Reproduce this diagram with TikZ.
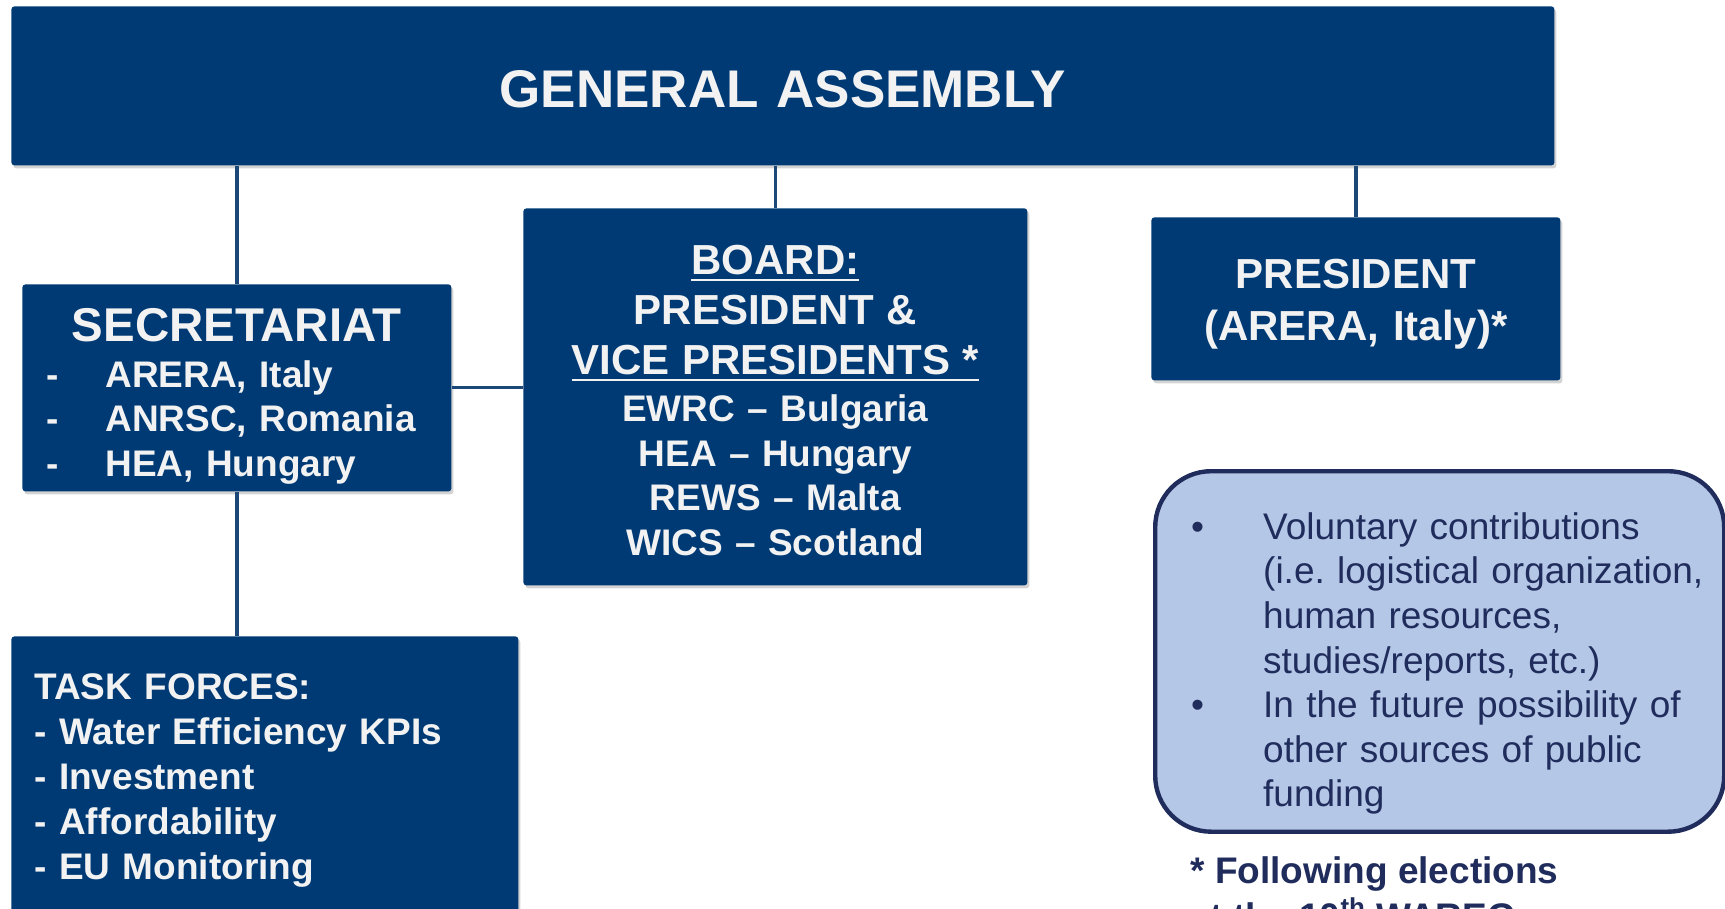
\documentclass[tikz,border=0pt]{standalone}
\usepackage{fontspec}
\setmainfont{Liberation Sans}
\usetikzlibrary{positioning}
\usetikzlibrary{shadows}

\definecolor{orgblue}{RGB}{0,58,117}
\definecolor{orgline}{RGB}{27,72,118}
\definecolor{orgtext}{RGB}{242,242,242}
\definecolor{fundfill}{RGB}{180,199,231}
\definecolor{fundnavy}{RGB}{31,44,92}

\newcommand\orgbody{\fontsize{18.5}{22.3}\selectfont\frenchspacing}
\newcommand\orghead{\fontsize{21}{25}\selectfont}
\newcommand\boardul[1]{\leavevmode\setbox0\hbox{#1}\rlap{\rule[-3.2pt]{\wd0}{1pt}}\box0}
\newcommand\secitem[1]{\leavevmode\hspace*{12pt}\makebox[29.5pt][l]{-}#1}
\newcommand\fundbullet{\leavevmode\llap{\makebox[36pt][l]{\textbullet}}}

\tikzset{orgbox/.style = {fill=orgblue, text=orgtext, font=\bfseries\orgbody,
                          inner sep=0pt, rounded corners=1.5pt, anchor=north west,
                          drop shadow={shadow xshift=1pt, shadow yshift=-1.5pt, opacity=.35}}}
\tikzset{orglink/.style = {draw=orgline, line width=1.6pt}}

\begin{document}
\begin{tikzpicture}[x=0.5pt,y=-0.5pt]
	\useasboundingbox (0,0) rectangle (1725,909);
	\node[orgbox, text width=771.5pt, align=center, text height=50.5pt, text depth=29pt,
	      font=\bfseries\fontsize{26.5}{30}\selectfont] (ga) at (11,6) {GENERAL ASSEMBLY};
	\node[orgbox, text width=214.5pt, align=left, text height=28.5pt, text depth=75pt] (secr) at (22,284)
	     {\makebox[\linewidth]{\fontsize{23.7}{25}\selectfont SECRETARIAT}\\[0.7pt]
	      \secitem{ARERA, Italy}\\ \secitem{ANRSC, Romania}\\ \secitem{HEA, Hungary}};
	\node[orgbox, text width=252pt, align=center, text height=33pt, text depth=155.5pt] (board) at (523,208)
	     {{\orghead\boardul{BOARD:}}\\[3pt]
	      {\orghead PRESIDENT \&}\\[2.5pt]
	      {\orghead\boardul{VICE PRESIDENTS *}}\\[1.2pt]
	      EWRC -- Bulgaria\\ HEA -- Hungary\\ REWS -- Malta\\ WICS -- Scotland};
	\node[orgbox, text width=204.5pt, align=center, text height=35.5pt, text depth=46pt,
	      font=\bfseries\orghead] (pres) at (1151,217) {PRESIDENT\\[1pt] (ARERA, Italy)*};
	\node[orgbox, text width=230.5pt, inner xsep=11.5pt, align=left, text height=31.5pt, text depth=140pt,
	      font=\bfseries\fontsize{18.5}{22.5}\selectfont] (tasks) at (11,636)
	     {TASK FORCES:\\ - Water Efficiency KPIs\\ - Investment\\ - Affordability\\ - EU Monitoring};
	\node[draw=fundnavy, line width=2.2pt, fill=fundfill, rounded corners=28pt, text=fundnavy,
	      inner sep=0pt, anchor=north west, text width=284.5pt, align=left,
	      text height=34pt, text depth=146.25pt, font=\orgbody] (fund) at (1153,469)
	     {\leftskip=54pt
	      \fundbullet Voluntary contributions\\ (i.e. logistical organization,\\ human resources,\\
	      studies/reports, etc.)\\
	      \fundbullet In the future possibility of\\ other sources of public\\ funding\par};
	\node[anchor=base west, inner sep=0pt, align=left, text=fundnavy,
	      font=\bfseries\fontsize{18.5}{23}\selectfont] (note) at (1190,929)
	     {* Following elections\\ at the 10\textsuperscript{th} WAREG};
	\draw[orglink] (ga.south -| secr.north) -- (secr.north);
	\draw[orglink] (secr.south) -- (tasks.north -| secr.south);
	\draw[orglink] (ga.south -| board.north) -- (board.north);
	\draw[orglink] (ga.south -| pres.north) -- (pres.north);
	\draw[orglink] (secr.east) -- (secr.east -| board.west);
\end{tikzpicture}
\end{document}
